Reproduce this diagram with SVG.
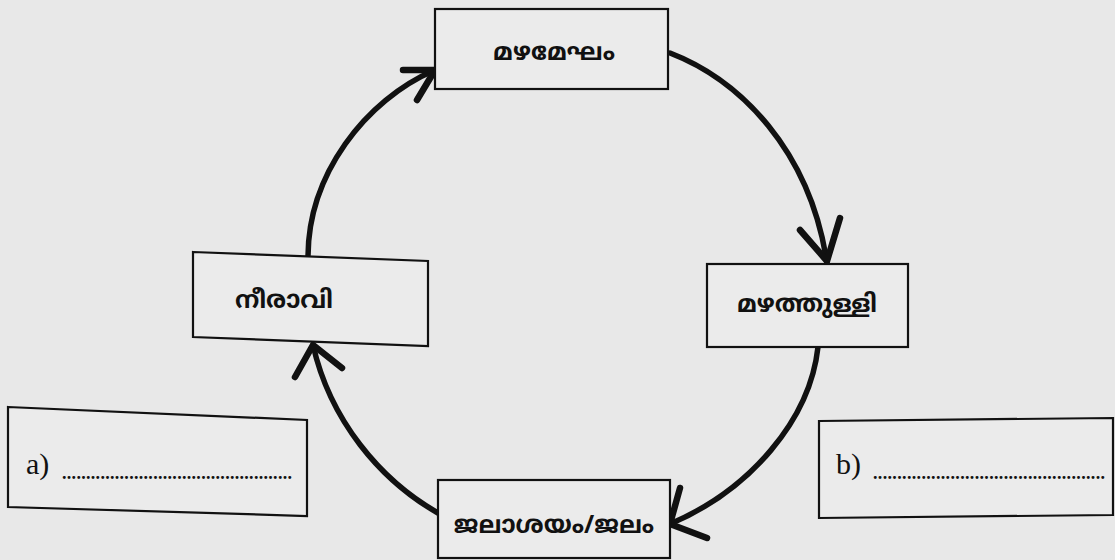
<svg xmlns="http://www.w3.org/2000/svg" width="1115" height="560" viewBox="0 0 1115 560">
<style>
.box{fill:#ebebeb;stroke:#111;stroke-width:2.2}
.lbl{font-family:"Noto Sans","Noto Sans Malayalam","DejaVu Sans",sans-serif;font-size:24.5px;font-weight:bold;fill:#111;text-anchor:middle;dominant-baseline:central}
.ab{font-family:"Liberation Serif",serif;font-size:30px;fill:#111}
.dots{font-family:"Liberation Serif",serif;font-size:18px;font-weight:bold;fill:#111}
.arc{fill:none;stroke:#111;stroke-width:5.5;stroke-linecap:round}
.head{fill:none;stroke:#111;stroke-width:6.5;stroke-linecap:round;stroke-linejoin:round}
</style>
<rect width="1115" height="560" fill="#e8e8e8"/>
<g id="connectors">
<path class="arc" d="M670,53 C740,80 810,150 827,263"/>
<polyline class="head" points="800,230 827,261 840,218"/>
<path class="arc" d="M818,347 C810,420 750,490 670,524"/>
<polyline class="head" points="680,488 670,524 707,538"/>
<path class="arc" d="M438,513 C380,480 330,420 313,345"/>
<polyline class="head" points="295,377 313,345 342,368"/>
<path class="arc" d="M308,257 C308,175 365,100 435,70"/>
<polyline class="head" points="403,70 435,70 417,100"/>
</g>
<g id="node-mazhamegham">
<rect class="box" x="435" y="9" width="233" height="80"/>
<text class="lbl" x="554" y="50">മഴമേഘം</text>
</g>
<g id="node-neeravi">
<polygon class="box" points="193,252 428,261 428,346 193,337"/>
<text class="lbl" x="284" y="298">നീരാവി</text>
</g>
<g id="node-mazhathulli">
<rect class="box" x="707" y="264" width="201" height="83"/>
<text class="lbl" x="807" y="302">മഴത്തുള്ളി</text>
</g>
<g id="node-jalasayam">
<rect class="box" x="438" y="480" width="232" height="78"/>
<text class="lbl" x="554" y="523">ജലാശയം/ജലം</text>
</g>
<g id="node-a">
<polygon class="box" points="8,407 307,420 307,516 8,507"/>
<text class="ab" x="26" y="474">a)</text>
<text class="dots" x="62" y="479" textLength="230" lengthAdjust="spacing">................................................</text>
</g>
<g id="node-b">
<polygon class="box" points="819,421 1113,418 1113,515 819,518"/>
<text class="ab" x="836" y="474">b)</text>
<text class="dots" x="873" y="479" textLength="232" lengthAdjust="spacing">................................................</text>
</g>
</svg>
